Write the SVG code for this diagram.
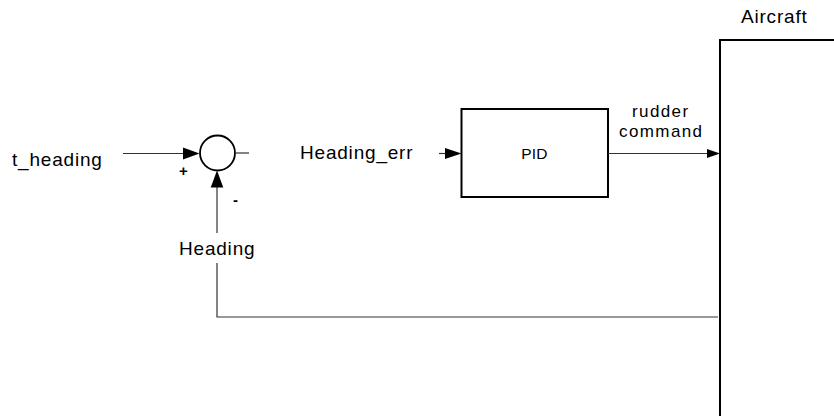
<svg xmlns="http://www.w3.org/2000/svg" width="834" height="416" viewBox="0 0 834 416">
<style>
text{font-family:"Liberation Sans",Arial,sans-serif;font-size:19px;fill:#000;letter-spacing:0.8px}
.ln{stroke:#333;stroke-width:1.2;fill:none}
.blk{stroke:#000;stroke-width:2;fill:#fff}
.ah{fill:#000}
.sg{font-size:15px;letter-spacing:0;font-weight:bold}
.out{font-size:17px;letter-spacing:1.4px}
</style>
<rect width="834" height="416" fill="#fff"/>
<g id="aircraft">
<rect class="blk" x="720" y="40" width="200" height="420"/>
<text x="741" y="23">Aircraft</text>
</g>
<g id="sum">
<circle cx="217.5" cy="153" r="17.5" stroke="#000" stroke-width="1.8" fill="#fff"/>
<text class="sg" x="179" y="176">+</text>
<text class="sg" x="233" y="205">-</text>
</g>
<g id="pid">
<rect class="blk" x="461.5" y="109" width="146.5" height="88"/>
<text x="534.5" y="159" text-anchor="middle" style="font-size:15.5px;letter-spacing:0.3px">PID</text>
</g>
<g id="connectors">
<line class="ln" x1="123" y1="153.5" x2="186" y2="153.5"/>
<polygon class="ah" points="199.5,153.5 183,147.5 183,159.5"/>
<line class="ln" x1="235" y1="153" x2="249" y2="153"/>
<line class="ln" x1="439" y1="153.5" x2="448" y2="153.5"/>
<polygon class="ah" points="461.5,153.5 445,148 445,159"/>
<line class="ln" x1="608" y1="153.5" x2="710" y2="153.5"/>
<polygon class="ah" points="720,153.5 707,149 707,158"/>
<polyline class="ln" points="718,317 217,317 217,263"/>
<line class="ln" x1="217" y1="233" x2="217" y2="185"/>
<polygon class="ah" points="217,170.5 210.7,187.5 223.3,187.5"/>
</g>
<g id="labels">
<text x="12" y="166">t_heading</text>
<text x="300" y="159">Heading_err</text>
<text x="179" y="255">Heading</text>
<text class="out" x="632" y="117">rudder</text>
<text class="out" x="619" y="136.5">command</text>
</g>
</svg>
